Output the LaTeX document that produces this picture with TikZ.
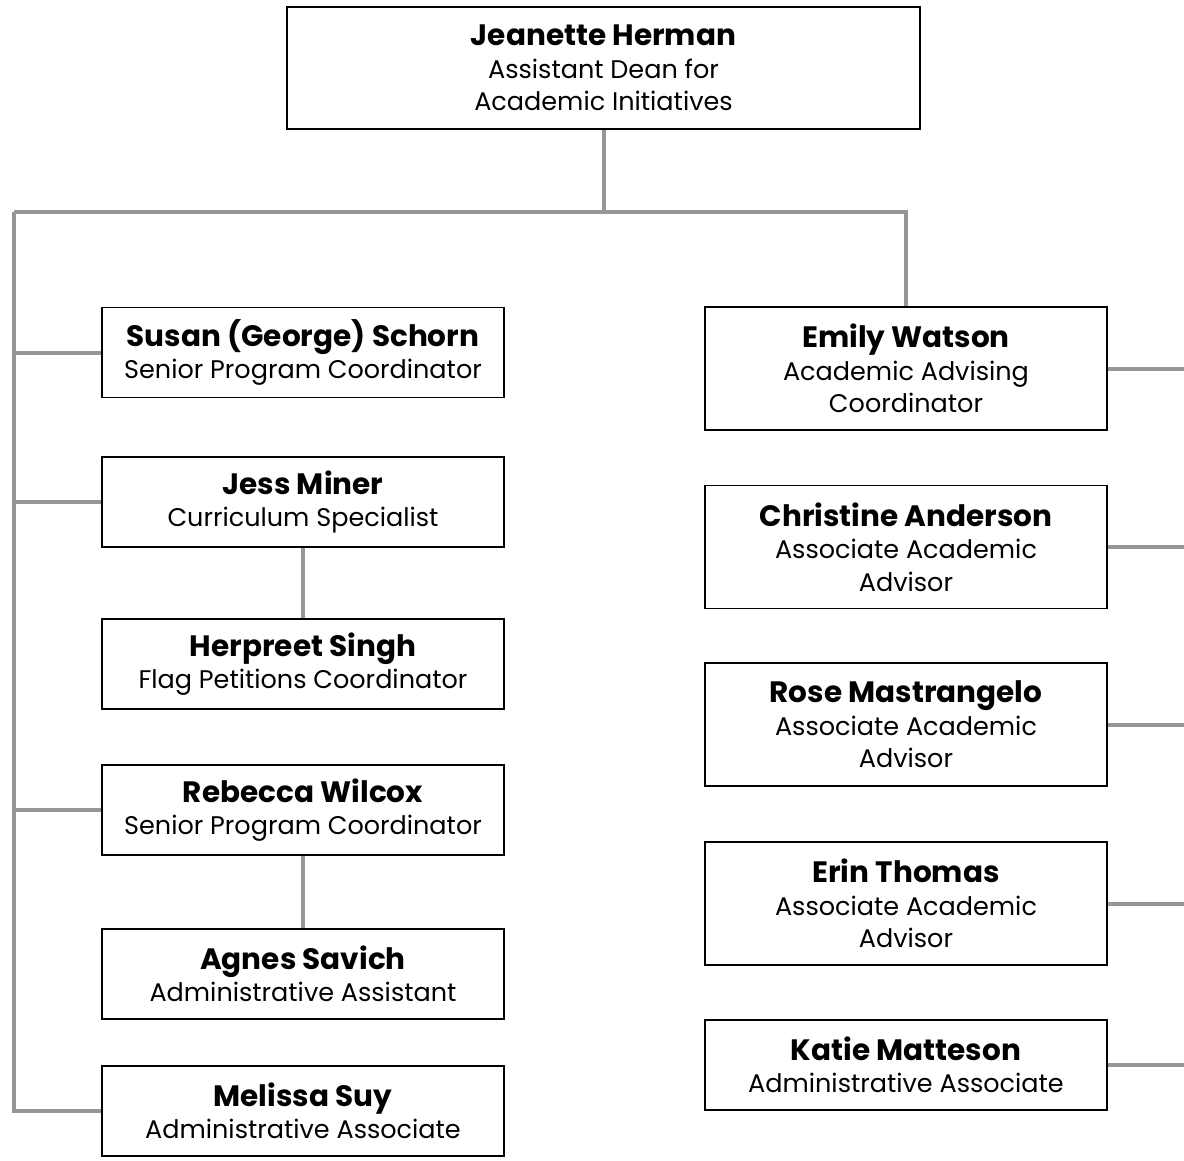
\documentclass[tikz,border=0pt]{standalone}
\usepackage{fontspec}
\setmainfont{Poppins}
\definecolor{lineg}{RGB}{150,150,150}
\begin{document}
\begin{tikzpicture}[x=1pt,y=-1pt,
  box/.style={draw=black,line width=1.5pt,fill=white,minimum width=402pt,minimum height=90pt,align=center,inner sep=0pt,font=\fontsize{25.5}{32.5}\selectfont},
  tall/.style={minimum height=123pt},
  conn/.style={draw=lineg,line width=4pt,line join=miter}]
\useasboundingbox (0,0) rectangle (1184,1160);
\newcommand{\nm}[1]{{\bfseries\fontsize{29.5}{32.5}\selectfont #1}}
\node[box,minimum width=633pt,minimum height=122pt] (top) at (603.5,68) {\nm{Jeanette Herman}\\Assistant Dean for\\Academic Initiatives};
\node[box] (susan) at (303,352.5) {\nm{Susan (George) Schorn}\\Senior Program Coordinator};
\node[box] (jess) at (303,502) {\nm{Jess Miner}\\Curriculum Specialist};
\node[box] (herpreet) at (303,664) {\nm{Herpreet Singh}\\Flag Petitions Coordinator};
\node[box] (rebecca) at (303,810) {\nm{Rebecca Wilcox}\\Senior Program Coordinator};
\node[box] (agnes) at (303,974) {\nm{Agnes Savich}\\Administrative Assistant};
\node[box] (melissa) at (303,1111) {\nm{Melissa Suy}\\Administrative Associate};
\node[box,tall] (emily) at (906,368.5) {\nm{Emily Watson}\\Academic Advising\\Coordinator};
\node[box,tall] (christine) at (906,547) {\nm{Christine Anderson}\\Associate Academic\\Advisor};
\node[box,tall] (rose) at (906,724.5) {\nm{Rose Mastrangelo}\\Associate Academic\\Advisor};
\node[box,tall] (erin) at (906,903.5) {\nm{Erin Thomas}\\Associate Academic\\Advisor};
\node[box] (katie) at (906,1065) {\nm{Katie Matteson}\\Administrative Associate};
\coordinate (L) at (14,212);
\coordinate (M) at (603.5,212);
\coordinate (R) at (906,212);
\coordinate (edge) at (1184,0);
\draw[conn] (top.south) -- (M);
\draw[conn] (L) -- (R) -- (emily.north);
\draw[conn] (L) |- (melissa.west);
\draw[conn] (susan.west) -- (susan.west -| L);
\draw[conn] (jess.west) -- (jess.west -| L);
\draw[conn] (rebecca.west) -- (rebecca.west -| L);
\draw[conn] (jess.south) -- (herpreet.north);
\draw[conn] (rebecca.south) -- (agnes.north);
\draw[conn] (emily.east) -- (emily.east -| edge);
\draw[conn] (christine.east) -- (christine.east -| edge);
\draw[conn] (rose.east) -- (rose.east -| edge);
\draw[conn] (erin.east) -- (erin.east -| edge);
\draw[conn] (katie.east) -- (katie.east -| edge);
\end{tikzpicture}
\end{document}
